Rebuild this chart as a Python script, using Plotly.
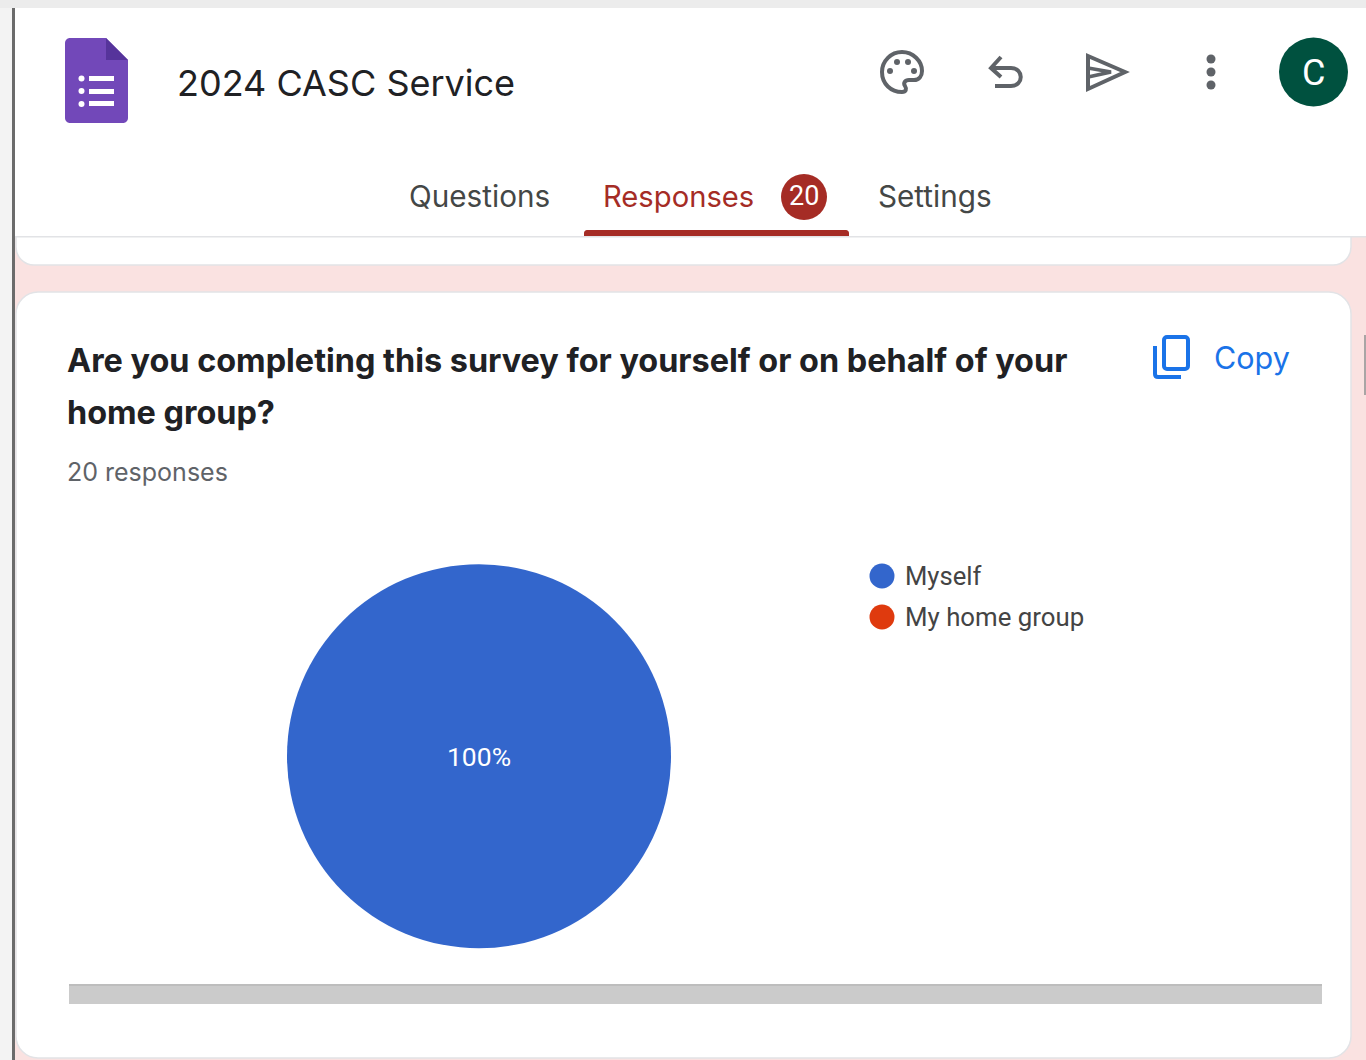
import plotly.graph_objects as go

# Survey answers shown in the pie
answer_labels = ["Myself", "My home group"]
answer_counts = [20, 0]
answer_colors = ["#3366CC", "#DF3A0E"]

form_title = "2024 CASC Service"
question_lines = ["Are you completing this survey for yourself or on behalf of your", "home group?"]
response_note = "20 responses"
tab_names = ["Questions", "Responses", "Settings"]
response_badge = "20"

W, H = 1366, 1060
PINK = "#FAE2E1"
BORDER = "#E2E3E6"
ICON = "#5F6368"
ACCENT = "#A52C25"
BLUE = "#1A73E8"
SANS = "Roboto"
WIDE = "Inter"


def rect(x0, y0, x1, y1, fill, line=None, width=0):
    return dict(type="rect", x0=x0, y0=y0, x1=x1, y1=y1, fillcolor=fill,
                line=dict(color=line or fill, width=width), layer="below")


def circle(cx, cy, r, fill, layer="below"):
    return dict(type="circle", x0=cx - r, y0=cy - r, x1=cx + r, y1=cy + r,
                fillcolor=fill, line=dict(width=0), layer=layer)


def path(d, fill="rgba(0,0,0,0)", line=None, width=0):
    return dict(type="path", path=d, fillcolor=fill,
                line=dict(color=line or "rgba(0,0,0,0)", width=width), layer="below")


def rounded(x0, y0, x1, y1, r, top=True, bottom=True):
    k = r * 0.45
    d = f"M {x0} {y0 + r if top else y0} "
    if top:
        d += f"C {x0} {y0 + k} {x0 + k} {y0} {x0 + r} {y0} L {x1 - r} {y0} C {x1 - k} {y0} {x1} {y0 + k} {x1} {y0 + r} "
    else:
        d += f"L {x1} {y0} "
    if bottom:
        d += f"L {x1} {y1 - r} C {x1} {y1 - k} {x1 - k} {y1} {x1 - r} {y1} L {x0 + r} {y1} C {x0 + k} {y1} {x0} {y1 - k} {x0} {y1 - r} Z"
    else:
        d += f"L {x1} {y1} L {x0} {y1} Z"
    return d


def label(x, y, text, size, color, anchor="left", weight=400, family=SANS):
    return dict(x=x, y=y, text=text, showarrow=False, xanchor=anchor, yanchor="middle",
                xref="x", yref="y", align="left", borderpad=0, borderwidth=0,
                xshift=-1 if anchor == "left" else 0,
                font=dict(size=size, color=color, family=family, weight=weight))


shapes = [
    # page backdrop, browser edge and header
    rect(0, 0, W, H, PINK),
    rect(0, 0, 13, H, "#F3F3F3"),
    rect(0, 0, W, 8, "#ECECEC"),
    # cards
    path(rounded(16, 200, 1351, 265, 18, top=False), fill="#FFFFFF", line=BORDER, width=1.5),
    path(rounded(16, 292, 1351, 1058, 22), fill="#FFFFFF", line=BORDER, width=1.5),
    rect(15, 8, W, 236, "#FFFFFF"),
    rect(15, 236, W, 237.5, BORDER),
    rect(12, 8, 15, H, "#6B6B6B"),
    rect(1364, 335, W, 395, "#A9A5A5"),
    # forms logo
    path(rounded(65, 38, 128, 123, 5), fill="#7248B9"),
    path("M 105 37 L 129 37 L 129 61 Z", fill="#FFFFFF"),
    path("M 106 38 L 128 60 L 106 60 Z", fill="#56349B"),
    circle(81.5, 78.5, 3, "#FFFFFF"), circle(81.5, 91, 3, "#FFFFFF"), circle(81.5, 104, 3, "#FFFFFF"),
    rect(89, 76, 114, 81, "#FFFFFF"), rect(89, 89, 114, 94, "#FFFFFF"), rect(89, 101, 114, 106, "#FFFFFF"),
    # palette icon
    path("M 902 52 C 891 52 882 61 882 72 C 882 84 891 92 902 92 C 906 92 907 89 905 86 "
         "C 903 83 905 80 909 80 L 914 80 C 919 80 922 76 922 71 C 922 61 913 52 902 52 Z",
         line=ICON, width=4),
    circle(897, 62, 3, ICON), circle(908, 62, 3, ICON), circle(890, 71, 3, ICON), circle(914, 71, 3, ICON),
    # undo icon
    path("M 1001 57 L 991 68 L 1001 77", line=ICON, width=4),
    path("M 991 68 L 1011 68 C 1024 68 1024 86 1011 86 L 995 86", line=ICON, width=4),
    # send icon
    path("M 1088 56 L 1125 72 L 1088 89 Z", line=ICON, width=4),
    path("M 1088 68 L 1111 72 L 1088 77 Z", line=ICON, width=3.5),
    # overflow menu
    circle(1211, 59, 4.5, ICON), circle(1211, 72, 4.5, ICON), circle(1211, 85, 4.5, ICON),
    # account avatar
    circle(1313.5, 72, 34.5, "#00513F"),
    # selected tab
    circle(804, 197, 23, ACCENT),
    path(rounded(584, 230, 849, 236, 3, bottom=False), fill=ACCENT),
    # copy icon
    path(rounded(1164, 337, 1188, 369, 3), line=BLUE, width=4),
    path("M 1155 346 L 1155 374 C 1155 376 1156 377 1158 377 L 1181 377", line=BLUE, width=4),
    # horizontal scroll track under the pie
    rect(69, 984, 1322, 1004, "#CBCBCB"),
    rect(69, 984, 1322, 986, "#BDBDBD"),
    # legend swatches
    circle(882, 576, 12.5, answer_colors[0]),
    circle(882, 617, 12.5, answer_colors[1]),
]

annotations = [
    label(178, 83, form_title, 36, "#202124", family=WIDE),
    label(410, 196, tab_names[0], 29.7, "#444746", family=WIDE),
    label(604, 196, tab_names[1], 29.2, ACCENT, family=WIDE),
    label(803.5, 196, response_badge, 27, "#FFFFFF", anchor="center"),
    label(879, 196, tab_names[2], 29.7, "#444746", family=WIDE),
    label(1313.5, 73, "C", 36, "#FFFFFF", anchor="center"),
    label(1215, 357, "Copy", 30.5, BLUE, family=WIDE),
    label(68, 360, question_lines[0], 32.4, "#202124", weight=700, family=WIDE),
    label(68, 412, question_lines[1], 32.4, "#202124", weight=700, family=WIDE),
    label(68, 472, response_note, 25, "#5F6368", family=WIDE),
    label(906, 576, answer_labels[0], 25.6, "#444444"),
    label(906, 617, answer_labels[1], 25.8, "#444444"),
]

fig = go.Figure()

# invisible trace keeps the pixel-sized axes alive for the shapes
fig.add_trace(go.Scatter(x=[0, W], y=[0, H], mode="none", hoverinfo="skip", showlegend=False))

fig.add_trace(go.Pie(
    labels=answer_labels,
    values=answer_counts,
    marker=dict(colors=answer_colors, line=dict(width=0)),
    sort=False,
    textinfo="percent",
    textposition="inside",
    insidetextorientation="horizontal",
    texttemplate="%{percent:.0%}",
    textfont=dict(size=26.5, color="#FFFFFF", family=SANS),
    showlegend=False,
    domain=dict(x=[287 / W, 671 / W], y=[1 - 948.5 / H, 1 - 564 / H]),
))

fig.update_layout(
    width=W, height=H, autosize=False,
    margin=dict(l=0, r=0, t=0, b=0, pad=0),
    paper_bgcolor="#FFFFFF", plot_bgcolor="rgba(0,0,0,0)",
    xaxis=dict(range=[0, W], visible=False, fixedrange=True),
    yaxis=dict(range=[H, 0], visible=False, fixedrange=True),
    shapes=shapes,
    annotations=annotations,
    showlegend=False,
)

fig.write_html("out.html", config=dict(displayModeBar=False))
